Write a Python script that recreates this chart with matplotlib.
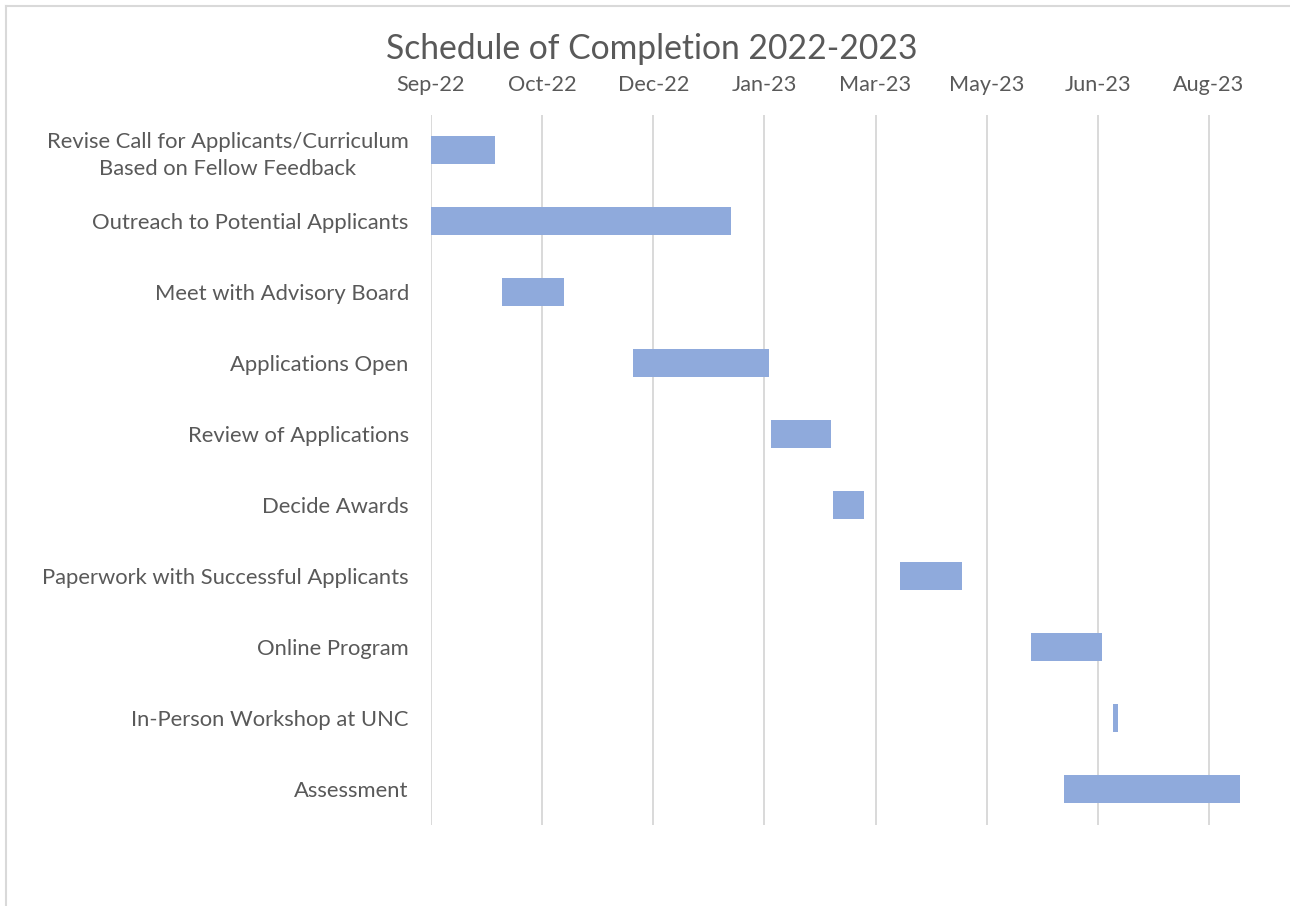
import matplotlib
matplotlib.use("Agg")
import matplotlib.pyplot as plt
import matplotlib.dates as mdates
from matplotlib.lines import Line2D
import pandas as pd

# 任务数据
tasks = [
    "Revise Call for Applicants/Curriculum\nBased on Fellow Feedback",
    "Outreach to Potential Applicants",
    "Meet with Advisory Board",
    "Applications Open",
    "Review of Applications",
    "Decide Awards",
    "Paperwork with Successful Applicants",
    "Online Program",
    "In-Person Workshop at UNC",
    "Assessment",
]
start_dates = ["2022-09-01", "2022-09-01", "2022-10-03", "2022-12-01", "2023-02-01",
               "2023-03-01", "2023-03-31", "2023-05-29", "2023-07-05", "2023-06-13"]
end_dates = ["2022-09-30", "2023-01-14", "2022-10-31", "2023-01-31", "2023-02-28",
             "2023-03-15", "2023-04-28", "2023-06-30", "2023-07-07", "2023-08-31"]

axis_start = "2022-09-01"
axis_days = 364
tick_step_days = 50
n_ticks = 8

TEXT = "#595959"
GRID = "#D9D9D9"
BAR = "#8FAADC"

plt.rcParams['font.family'] = ['Lato', 'DejaVu Sans']

W, H = 1290, 906
fig = plt.figure(figsize=(W / 100, H / 100), dpi=100)

# 绘图区位置（像素换算）
left, right = 431, 1240
top, bottom = 114.5, 824.5
ax = fig.add_axes([left / W, (H - bottom) / H, (right - left) / W, (bottom - top) / H])

starts = pd.to_datetime(start_dates)
ends = pd.to_datetime(end_dates)
s_num = mdates.date2num(starts)
e_num = mdates.date2num(ends)

y = list(range(len(tasks)))
ax.barh(y, e_num - s_num, left=s_num, height=0.39, color=BAR, zorder=3)

x0 = mdates.date2num(pd.Timestamp(axis_start))
ax.set_xlim(x0, x0 + axis_days)
ax.set_ylim(len(tasks) - 0.5, -0.5)

ticks = pd.date_range(axis_start, periods=n_ticks, freq=f"{tick_step_days}D")
ax.set_xticks(mdates.date2num(ticks))
ax.set_xticklabels([t.strftime("%b-%y") for t in ticks])
ax.xaxis.tick_top()
ax.tick_params(axis='x', length=0, pad=14, labelsize=15.6, labelcolor=TEXT)

ax.set_yticks(y)
ax.set_yticklabels(tasks, multialignment='center', linespacing=1.45)
ax.tick_params(axis='y', length=0, pad=16, labelsize=15.8, labelcolor=TEXT)

ax.grid(axis='x', color=GRID, linewidth=1.4, zorder=0)
ax.grid(axis='y', visible=False)
for sp in ax.spines.values():
    sp.set_visible(False)

fig.text(651.5 / W, 1 - 49 / H, "Schedule of Completion 2022-2023",
         ha='center', va='center', fontsize=24.2, color=TEXT)

# 图表外框
fig.add_artist(Line2D([6 / W, 1.0], [1 - 6 / H, 1 - 6 / H], transform=fig.transFigure,
                      color=GRID, linewidth=1.5))
fig.add_artist(Line2D([6 / W, 6 / W], [0, 1 - 6 / H], transform=fig.transFigure,
                      color=GRID, linewidth=1.5))

fig.savefig("out.png", dpi=100)
